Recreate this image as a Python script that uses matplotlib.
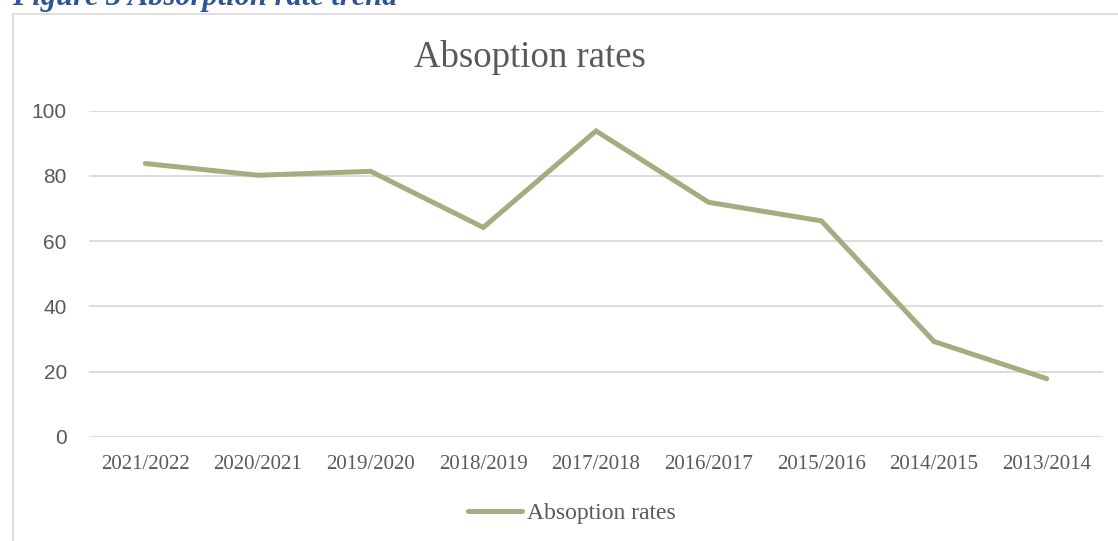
import matplotlib.pyplot as plt
from matplotlib.patches import Rectangle

# absorption rate per academic year (newest first, as in the source chart)
years = ['2021/2022', '2020/2021', '2019/2020', '2018/2019', '2017/2018',
         '2016/2017', '2015/2016', '2014/2015', '2013/2014']
rates = [83.8, 80.2, 81.4, 64.2, 93.8, 71.9, 66.2, 29.2, 17.8]
series_name = 'Absoption rates'
y_ticks = [0, 20, 40, 60, 80, 100]

W, H = 1118, 541
fig = plt.figure(figsize=(W / 100, H / 100), dpi=100)
fig.patch.set_facecolor('white')

# chart frame (runs off the right and bottom of the crop)
fig.patches.append(Rectangle((13 / W, -0.05), 1.2, 1 - 14.5 / H + 0.05,
                             transform=fig.transFigure, fill=False,
                             edgecolor='#d9d9d9', linewidth=1.2))

# caption above the frame, mostly cut off at the top like in the source
fig.text(12 / W, 1 - 5.5 / H, 'Figure 3 Absorption rate trend', family='Liberation Serif',
         fontsize=22, fontweight='bold', fontstyle='italic', color='#2f5496',
         va='baseline', ha='left')

ax = fig.add_axes([89 / W, 1 - 436.7 / H, (1103 - 89) / W, (436.7 - 110.7) / H])
x = list(range(len(years)))
ax.plot(x, rates, color='#a5ad80', linewidth=3.6, solid_capstyle='round',
        solid_joinstyle='miter', label=series_name, zorder=3)

ax.set_xlim(-0.5, len(years) - 0.5)
ax.set_ylim(0, 100)
ax.set_yticks(y_ticks)
ax.set_xticks(x)
ax.set_xticklabels(years, family='Liberation Serif', fontsize=15, color='#595959')
for lab in ax.get_yticklabels():
    lab.set_family('Liberation Sans')
    lab.set_fontsize(15)
    lab.set_color('#595959')
ax.tick_params(axis='both', length=0)
ax.tick_params(axis='x', pad=13.5)
ax.tick_params(axis='y', pad=16)
for s in ax.spines.values():
    s.set_visible(False)
ax.grid(axis='y', color='#d9d9d9', linewidth=1.3)
ax.set_axisbelow(True)

fig.text(530 / W, 1 - 67 / H, series_name, family='Liberation Serif', fontsize=26.5,
         color='#595959', ha='center', va='baseline')

leg = ax.legend(loc='center', bbox_to_anchor=(572 / W, 1 - 513 / H),
                bbox_transform=fig.transFigure, frameon=False, handlelength=2.3,
                handletextpad=0.2, prop={'family': 'Liberation Serif', 'size': 17})
for t in leg.get_texts():
    t.set_color('#595959')

fig.savefig('out.png', dpi=100)
